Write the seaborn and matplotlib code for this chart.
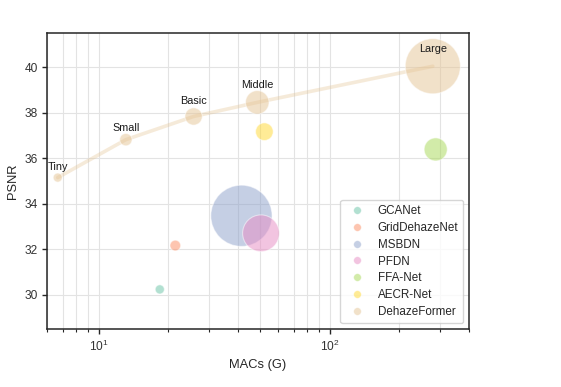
import numpy as np
import pandas as pd
import matplotlib
matplotlib.use("Agg")
import matplotlib.pyplot as plt
import seaborn as sns
from matplotlib.lines import Line2D

# ---- data ----
models = ["GCANet", "GridDehazeNet", "MSBDN", "PFDN", "FFA-Net", "AECR-Net"]
model_macs = [18.41, 21.49, 41.54, 50.46, 287.8, 52.20]
model_psnr = [30.23, 32.16, 33.47, 32.70, 36.39, 37.17]
model_params = [0.702, 0.956, 31.35, 11.27, 4.456, 2.611]

variants = ["Tiny", "Small", "Basic", "Middle", "Large"]
variant_macs = [6.658, 13.13, 25.79, 48.64, 279.7]
variant_psnr = [35.15, 36.82, 37.84, 38.46, 40.05]
variant_params = [0.686, 1.283, 2.514, 4.634, 25.44]

legend_names = models + ["DehazeFormer"]
yticks = [30, 32, 34, 36, 38, 40]

# ---- style ----
sns.set_theme(style="ticks")
plt.rcParams["font.family"] = ["Liberation Sans", "DejaVu Sans"]

palette = sns.color_palette("Set2", len(legend_names))
color_map = dict(zip(legend_names, palette))

df = pd.DataFrame({
    "Method": models + ["DehazeFormer"] * len(variants),
    "MACs": model_macs + variant_macs,
    "PSNR": model_psnr + variant_psnr,
    "Params": model_params + variant_params,
})

fig = plt.figure(figsize=(5.61, 3.87), dpi=100)
ax = fig.add_axes([0.0843, 0.1506, 0.7512, 0.7634])
ax.set_xscale("log")

# grid
ax.grid(True, which="major", axis="both", color="#e3e3e3", lw=0.8, zorder=0)
ax.grid(True, which="minor", axis="x", color="#e3e3e3", lw=0.8, zorder=0)
ax.set_axisbelow(True)

# connecting line for DehazeFormer variants
sns.lineplot(x=variant_macs, y=variant_psnr, color=color_map["DehazeFormer"],
             alpha=0.35, lw=2.6, sort=False, ax=ax, zorder=2)

k = 62.0
sns.scatterplot(data=df, x="MACs", y="PSNR", hue="Method", hue_order=legend_names,
                palette=color_map, size="Params", sizes=(0, 35 * k), size_norm=(0, 35),
                alpha=0.5, edgecolor="white", linewidth=0.8, legend=False, ax=ax, zorder=3)

# variant labels
label_offsets = [7.6, 8.1, 10.8, 12.7, 12.7]
for name, x, y, off in zip(variants, variant_macs, variant_psnr, label_offsets):
    ax.annotate(name, (x, y), xytext=(0, off), textcoords="offset points",
                ha="center", va="center", fontsize=7.8, color="#1a1a1a", zorder=5)

ax.set_xlim(6.0, 400)
ax.set_ylim(28.5, 41.5)
ax.set_yticks(yticks)
ax.set_xlabel("MACs (G)", fontsize=9.3, color="#262626")
ax.set_ylabel("PSNR", fontsize=9.3, color="#262626")
ax.tick_params(axis="both", which="major", labelsize=8.6, length=3.5, width=1.0,
               direction="out", colors="#262626")
ax.tick_params(axis="x", which="minor", length=2.2, width=0.8, direction="out",
               colors="#262626")
for lab in ax.get_xticklabels() + ax.get_yticklabels():
    lab.set_color("#333333")
for sp in ax.spines.values():
    sp.set_visible(True)
    sp.set_color("#262626")
    sp.set_linewidth(1.1)

handles = [Line2D([0], [0], marker="o", linestyle="none", markersize=5.5,
                  markerfacecolor=color_map[n], markeredgecolor="white",
                  markeredgewidth=0.5, alpha=0.5) for n in legend_names]
leg = ax.legend(handles, legend_names, loc="lower right", fontsize=8.4,
                frameon=True, fancybox=True, framealpha=0.8, edgecolor="#cccccc",
                labelspacing=0.42)
leg.set_zorder(6)

fig.savefig("out.png", dpi=100)
